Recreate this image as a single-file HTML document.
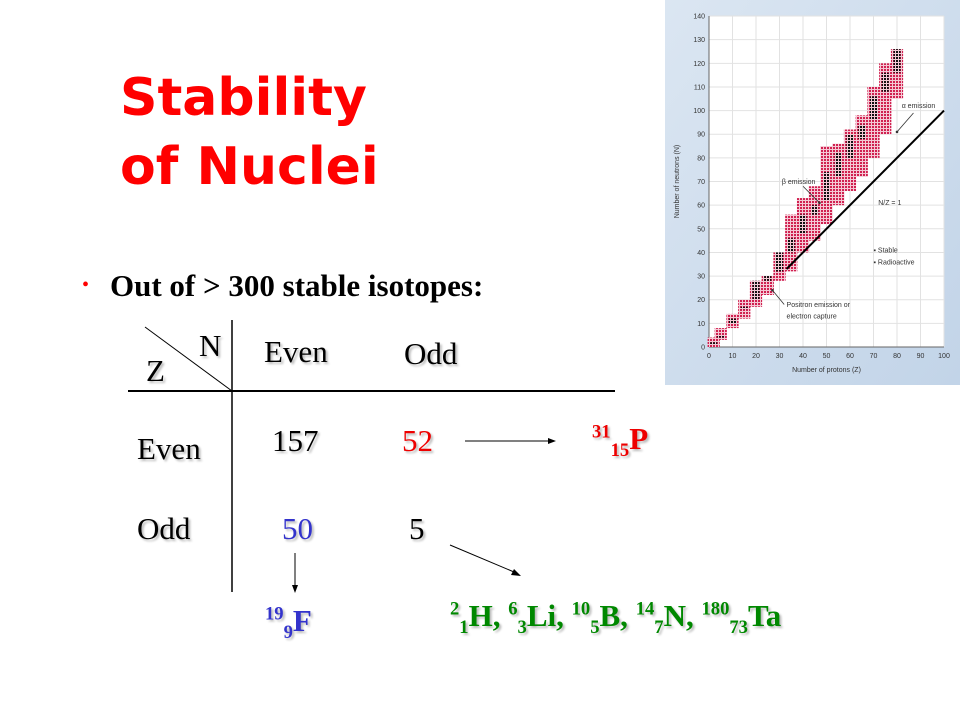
<!DOCTYPE html>
<html><head><meta charset="utf-8"><style>
body{margin:0;width:960px;height:720px;background:#fff;position:relative;overflow:hidden;font-family:"Liberation Serif",serif}
.a{position:absolute;white-space:nowrap}
.t{font-family:"DejaVu Sans",sans-serif;font-weight:bold;color:#f00;font-size:52px;left:120px;line-height:1}
.s{text-shadow:2px 2px 2px #bbb;font-size:31px}
.b{font-weight:bold}
sup,sub{font-size:60%}
</style></head><body>
<div class="a t" style="top:72px">Stability</div>
<div class="a t" style="top:141px">of Nuclei</div>
<div class="a" style="left:82px;top:274px;font-size:20px;color:#f00">•</div>
<div class="a" style="left:110px;top:268px;font-size:31px;font-weight:bold">Out of &gt; 300 stable isotopes:</div>

<svg class="a" style="left:0;top:0" width="960" height="720">
<line x1="232" y1="320" x2="232" y2="592" stroke="#000" stroke-width="1.5"/>
<line x1="128" y1="391" x2="615" y2="391" stroke="#000" stroke-width="2"/>
<line x1="145" y1="327" x2="232" y2="391" stroke="#000" stroke-width="1"/>
<line x1="465" y1="441" x2="550" y2="441" stroke="#000"/><polygon points="556,441,548,438,548,444"/>
<line x1="295" y1="553" x2="295" y2="586" stroke="#000"/><polygon points="295,593,292,585,298,585"/>
<line x1="450" y1="545" x2="514" y2="572" stroke="#000"/><polygon points="521,576,511,575,514,569"/>
</svg>
<div class="a s" style="left:199px;top:328px">N</div>
<div class="a s" style="left:146px;top:353px">Z</div>
<div class="a s" style="left:264px;top:334px">Even</div>
<div class="a s" style="left:404px;top:336px">Odd</div>
<div class="a s" style="left:137px;top:431px">Even</div>
<div class="a s" style="left:137px;top:511px">Odd</div>
<div class="a s" style="left:272px;top:423px">157</div>
<div class="a s" style="left:402px;top:423px;color:#e00">52</div>
<div class="a s" style="left:282px;top:511px;color:#33c">50</div>
<div class="a s" style="left:409px;top:511px">5</div>
<div class="a s b" style="left:592px;top:421px;color:#e00"><sup>31</sup><sub>15</sub>P</div>
<div class="a s b" style="left:265px;top:603px;color:#33c"><sup>19</sup><sub>9</sub>F</div>
<div class="a s b" style="left:450px;top:598px;color:#080"><sup>2</sup><sub>1</sub>H, <sup>6</sup><sub>3</sub>Li, <sup>10</sup><sub>5</sub>B, <sup>14</sup><sub>7</sub>N, <sup>180</sup><sub>73</sub>Ta</div>

<svg id="chart" class="a" style="left:665px;top:0" width="295" height="385" font-family="Liberation Sans,sans-serif">
<defs>
<linearGradient id="bg" x1="0" x2="1" y1="0" y2="1"><stop offset="0" stop-color="#dbe6f2"/><stop offset="1" stop-color="#c2d4e8"/></linearGradient>
<pattern id="pk" width="3" height="3" patternUnits="userSpaceOnUse"><rect width="3" height="3" fill="#f4c8d4"/><rect width="2" height="2" fill="#d02050"/></pattern>
<pattern id="bk" width="3" height="3" patternUnits="userSpaceOnUse"><rect width="3" height="3" fill="#f4c8d4"/><rect width="2" height="2" fill="#111"/></pattern>
</defs>
<rect width="295" height="385" fill="url(#bg)"/>
<g id="plot"></g>
</svg>
<script>
const zVals=[2,5,10,15,20,25,30,35,40,45,50,55,60,65,70,75,80];
const radLow=[0,3,8,12,17,22,28,32,40,45,52,60,66,72,80,90,105];
const radHigh=[4,8,14,20,28,30,40,56,63,68,85,86,92,98,110,120,126];
const stabLow=[1,4,10,16,20,28,32,40,48,56,62,72,80,88,96,108,116];
const stabHigh=[2,5,12,17,28,30,40,46,56,60,74,82,90,94,106,116,126];
const xTicks=[0,10,20,30,40,50,60,70,80,90,100];
const yTicks=[0,10,20,30,40,50,60,70,80,90,100,110,120,130,140];
const NS='http://www.w3.org/2000/svg';
const X=z=>44+z*2.35, Y=n=>347-n*2.364;
const g=document.getElementById('plot');
function mk(t,a,p){const e=document.createElementNS(NS,t);for(const k in a)e.setAttribute(k,a[k]);(p||g).appendChild(e);return e;}
const bgp=mk('rect',{x:X(0),y:Y(140),width:X(100)-X(0),height:Y(0)-Y(140),fill:'#fff'});


xTicks.forEach(v=>{const l=mk('line',{x1:X(v),x2:X(v),y1:Y(0),y2:Y(140),stroke:'#e2e2e2'});


const t=mk('text',{x:X(v),y:Y(0)+11,'font-size':7,'text-anchor':'middle',fill:'#333'});t.textContent=v;

});
yTicks.forEach(v=>{const l=mk('line',{x1:X(0),x2:X(100),y1:Y(v),y2:Y(v),stroke:'#e2e2e2'});


const t=mk('text',{x:X(0)-4,y:Y(v)+2.5,'font-size':7,'text-anchor':'end',fill:'#333'});t.textContent=v;

});
mk('line',{x1:X(0),x2:X(100),y1:Y(0),y2:Y(0),stroke:'#666'});
mk('line',{x1:X(0),x2:X(0),y1:Y(0),y2:Y(140),stroke:'#666'});
zVals.forEach((z,i)=>{
const r=mk('rect',{x:X(z-2.6),y:Y(radHigh[i]),width:X(z+2.6)-X(z-2.6),height:Y(radLow[i])-Y(radHigh[i]),fill:'url(#pk)'});


const s=mk('rect',{x:X(z-1.5),y:Y(stabHigh[i]),width:X(z+1.5)-X(z-1.5),height:Math.max(2,Y(stabLow[i])-Y(stabHigh[i])),fill:'url(#bk)'});


});
const nl=mk('line',{x1:X(33),y1:Y(33),x2:X(100),y2:Y(100),stroke:'#000','stroke-width':2});


function txt(s,x,y,fs,name,extra){const t=mk('text',Object.assign({x:x,y:y,'font-size':fs,fill:'#333'},extra||{}));t.textContent=s;

return t;}
txt('Number of protons (Z)',X(50),Y(0)+25,7,'x-axis-title',{'text-anchor':'middle'});
txt('Number of neutrons (N)',0,0,7,'y-axis-title',{'text-anchor':'middle',transform:'translate(14,'+Y(70)+') rotate(-90)'});
txt('α emission',X(82),Y(101),7,'alpha-label');
txt('β emission',X(31),Y(69),7,'beta-label');
txt('N/Z = 1',X(72),Y(60),7,'ratio-label');
txt('▪ Stable',X(70),Y(40),7,'legend-stable');
txt('▪ Radioactive',X(70),Y(35),7,'legend-radioactive');
txt('Positron emission or',X(33),Y(17),7,'positron-label');
txt('electron capture',X(33),Y(12),7,'positron-label-2');
[[X(87),Y(99),X(80),Y(91)],[X(40),Y(68),X(47),Y(61)],[X(32),Y(18),X(27),Y(24)]].forEach(a=>{
const l=mk('line',{x1:a[0],y1:a[1],x2:a[2],y2:a[3],stroke:'#333','stroke-width':0.8});


mk('circle',{cx:a[2],cy:a[3],r:1.3,fill:'#333'});});
</script>
</body></html>
